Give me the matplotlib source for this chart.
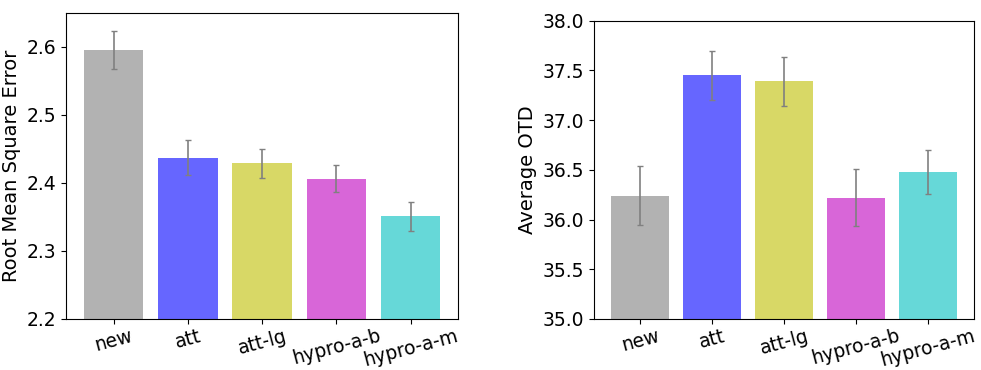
import matplotlib
matplotlib.use("Agg")
import matplotlib.pyplot as plt

methods = ["new", "att", "att-lg", "hypro-a-b", "hypro-a-m"]
rmse = [2.595, 2.437, 2.429, 2.406, 2.351]
rmse_err = [0.028, 0.026, 0.021, 0.020, 0.021]
otd = [36.24, 37.45, 37.39, 36.22, 36.48]
otd_err = [0.30, 0.25, 0.245, 0.29, 0.22]
bar_colors = ["gray", "b", "y", "m", "c"]

fig = plt.figure(figsize=(9.81, 3.7), dpi=100)
ax1 = fig.add_axes([0.0673, 0.138, 0.3997, 0.827])
ax2 = fig.add_axes([0.6055, 0.138, 0.3875, 0.806])

x = range(len(methods))
for ax, vals, errs, ylab, ylim in [
    (ax1, rmse, rmse_err, "Root Mean Square Error", (2.2, 2.65)),
    (ax2, otd, otd_err, "Average OTD", (35.0, 38.0)),
]:
    ax.bar(x, vals, color=bar_colors, alpha=0.6, width=0.8,
           yerr=errs, ecolor="gray", capsize=2,
           error_kw={"elinewidth": 1.2, "capthick": 1})
    ax.set_ylim(*ylim)
    ax.set_xticks(list(x))
    ax.set_xticklabels(methods, rotation=15, fontsize=13.5)
    ax.tick_params(axis="y", labelsize=13.5)
    ax.tick_params(axis="x", pad=2)
    ax.set_ylabel(ylab, fontsize=14)

ax2.set_yticks([35.0, 35.5, 36.0, 36.5, 37.0, 37.5, 38.0])
ax2.set_yticklabels(["35.0", "35.5", "36.0", "36.5", "37.0", "37.5", "38.0"])

fig.savefig("out.png")
